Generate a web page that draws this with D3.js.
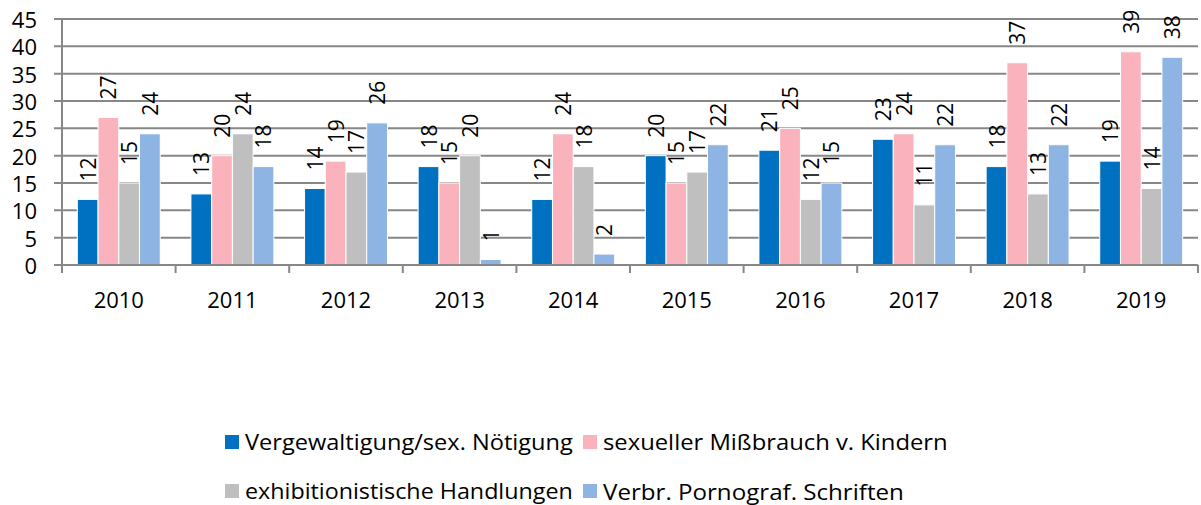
<!DOCTYPE html>
<html><head><meta charset="utf-8">
<script src="https://cdn.jsdelivr.net/npm/d3@7"></script>
<style>body{margin:0;background:#fff}svg{display:block}text{font-family:"Open Sans","Noto Sans",sans-serif;fill:#000}</style>
</head><body><svg id="c" width="1201" height="505"></svg>
<script>
const years = ["2010","2011","2012","2013","2014","2015","2016","2017","2018","2019"];
const seriesNames = ["Vergewaltigung/sex. Nötigung","sexueller Mißbrauch v. Kindern","exhibitionistische Handlungen","Verbr. Pornograf. Schriften"];
const vergewaltigung = [12,13,14,18,12,20,21,23,18,19];
const missbrauch = [27,20,19,15,24,15,25,24,37,39];
const exhibition = [15,24,17,20,18,17,12,11,13,14];
const pornograf = [24,18,26,1,2,22,15,22,22,38];
const yTicks = [0,5,10,15,20,25,30,35,40,45];
const colors = ["#0070C0","#FAB3BD","#BFBFBF","#8DB4E2"];
const series = [vergewaltigung, missbrauch, exhibition, pornograf];

(function(){
const svg = d3.select("#c");
const L = 62, R = 1198, T = 19, B = 265;
const x = d3.scaleBand().domain(years).range([L, R]).paddingInner(0.27).paddingOuter(0.135);
const xOuter = d3.scaleBand().domain(years).range([L, R]);
const xs = d3.scaleBand().domain(d3.range(4)).range([0, x.bandwidth()]);
const y = d3.scaleLinear().domain([0,45]).range([B, T]);
const grid = "#878787";

svg.append("g").selectAll("line").data(yTicks).join("line")
  .attr("x1", L - 8).attr("x2", R).attr("y1", d => y(d)).attr("y2", d => y(d))
  .attr("stroke", grid).attr("stroke-width", 2);
svg.append("line").attr("x1", L).attr("x2", L).attr("y1", T).attr("y2", B + 8)
  .attr("stroke", grid).attr("stroke-width", 2);
svg.append("g").selectAll("line").data(years).join("line")
  .attr("x1", d => xOuter(d) + xOuter.bandwidth()).attr("x2", d => xOuter(d) + xOuter.bandwidth())
  .attr("y1", B).attr("y2", B + 8).attr("stroke", grid).attr("stroke-width", 2);
svg.append("g").selectAll("text").data(yTicks).join("text")
  .attr("x", 37).attr("y", d => y(d)).attr("text-anchor", "end").attr("dominant-baseline", "central")
  .attr("font-size", 22).text(d => d);
svg.append("g").selectAll("text").data(years).join("text")
  .attr("x", d => xOuter(d) + xOuter.bandwidth()/2).attr("y", 299).attr("text-anchor", "middle")
  .attr("dominant-baseline", "central").attr("font-size", 22).text(d => d);

series.forEach((vals, si) => {
  const g = svg.append("g");
  g.selectAll("rect").data(vals).join("rect")
    .attr("x", (d,i) => x(years[i]) + xs(si)).attr("width", xs.bandwidth())
    .attr("y", d => y(d)).attr("height", d => y(0) - y(d))
    .attr("fill", colors[si]).attr("stroke", "#fff").attr("stroke-width", 1);
  g.selectAll("text").data(vals).join("text")
    .attr("transform", (d,i) => `translate(${x(years[i]) + xs(si) + xs.bandwidth()/2},${y(d) - 18}) rotate(-90)`)
    .attr("dominant-baseline", "central").attr("font-size", 21).text(d => d);
});
svg.append("line").attr("x1", L - 8).attr("x2", R).attr("y1", B).attr("y2", B)
  .attr("stroke", grid).attr("stroke-width", 2);

const legPos = [[225,442],[583,442],[225,491],[583,491]];
const legW = [328,345,328,301];
seriesNames.forEach((n, i) => {
  const [lx, ly] = legPos[i];
  svg.append("rect").attr("x", lx).attr("y", ly - 7).attr("width", 14).attr("height", 14).attr("fill", colors[i]);
  const t = svg.append("text").attr("x", 0).attr("y", 0).attr("dominant-baseline", "central")
    .attr("font-size", 22).text(n);
  const s = legW[i] / t.node().getComputedTextLength();
  t.attr("transform", `translate(${lx + 20},${ly}) scale(${s},1)`);
});
})();
</script></body></html>
